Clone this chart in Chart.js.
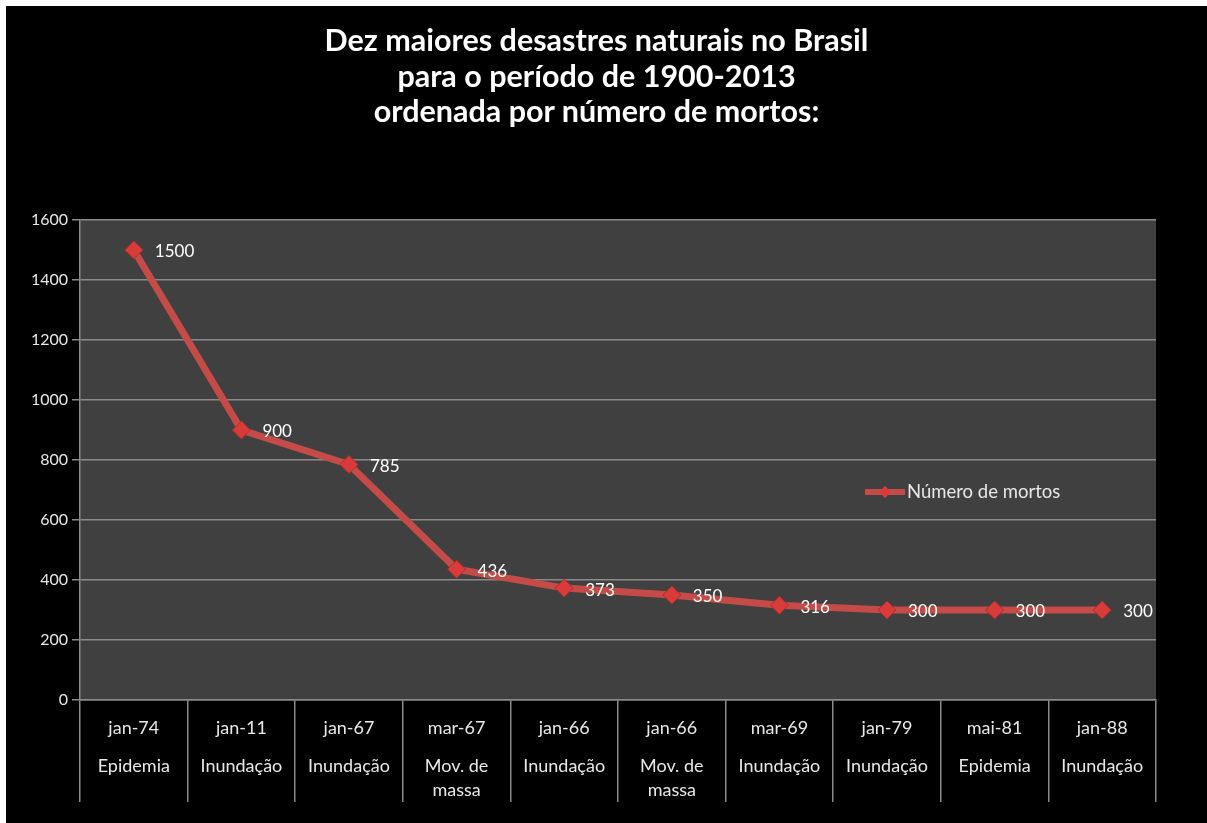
<!DOCTYPE html>
<html lang="pt">
<head>
<meta charset="UTF-8">
<title>Dez maiores desastres naturais no Brasil</title>
<script src="https://cdn.jsdelivr.net/npm/chart.js"></script>
<style>
    body { margin: 0; background: #fff; }
    #wrap { position: absolute; left: 6px; top: 6px; width: 1201px; height: 817px; background: #000; }
    #title {
        position: absolute; left: -10px; top: 16px; width: 1201px;
        text-align: center; color: #fff;
        font-family: Lato, sans-serif; font-weight: bold; font-size: 30.5px; line-height: 35.5px;
    }
    #chart { position: absolute; left: 0; top: 0; }
</style>
</head>
<body>
<div id="wrap">
    <canvas id="chart" width="1201" height="817"></canvas>
    <div id="title">Dez maiores desastres naturais no Brasil<br>para o período de 1900-2013<br>ordenada por número de mortos:</div>
</div>
<script>
    // data
    const dates = ['jan-74', 'jan-11', 'jan-67', 'mar-67', 'jan-66', 'jan-66', 'mar-69', 'jan-79', 'mai-81', 'jan-88'];
    const types = [['Epidemia'], ['Inundação'], ['Inundação'], ['Mov. de', 'massa'], ['Inundação'],
                   ['Mov. de', 'massa'], ['Inundação'], ['Inundação'], ['Epidemia'], ['Inundação']];
    const mortos = [1500, 900, 785, 436, 373, 350, 316, 300, 300, 300];
    const seriesName = 'Número de mortos';
    const yMin = 0, yMax = 1600, yStep = 200;

    const lineColor = '#c44b47';
    const markerColor = '#d93b3a';
    const gridColor = '#8a8a8a';
    const textColor = '#e8e8e8';
    const fontFamily = 'Lato, sans-serif';

    // dark grey plot area
    const plotBg = {
        id: 'plotBg',
        beforeDraw(chart) {
            const { ctx, chartArea: a } = chart;
            ctx.save();
            ctx.fillStyle = '#404040';
            ctx.fillRect(a.left, a.top, a.right - a.left, a.bottom - a.top);
            ctx.restore();
        }
    };

    // category labels: date on the first line, disaster type below
    const catLabels = {
        id: 'catLabels',
        afterDraw(chart) {
            const { ctx, chartArea: a } = chart;
            const xs = chart.scales.x;
            ctx.save();
            ctx.fillStyle = textColor;
            ctx.font = '18px ' + fontFamily;
            ctx.textAlign = 'center';
            ctx.textBaseline = 'middle';
            dates.forEach((d, i) => {
                const x = xs.getPixelForValue(i);
                ctx.fillText(d, x, a.bottom + 28);
                types[i].forEach((t, j) => ctx.fillText(t, x, a.bottom + 66 + j * 24));
            });
            ctx.restore();
        }
    };

    // value next to each point
    const valueLabels = {
        id: 'valueLabels',
        afterDatasetsDraw(chart) {
            const { ctx } = chart;
            const meta = chart.getDatasetMeta(0);
            ctx.save();
            ctx.fillStyle = '#fff';
            ctx.font = '17px ' + fontFamily;
            ctx.textAlign = 'left';
            ctx.textBaseline = 'middle';
            meta.data.forEach((p, i) => ctx.fillText(String(mortos[i]), p.x + 21, p.y + 2));
            ctx.restore();
        }
    };

    // legend inside the plot, right side
    const innerLegend = {
        id: 'innerLegend',
        afterDraw(chart) {
            const { ctx } = chart;
            const x0 = 859, y0 = 486;
            ctx.save();
            ctx.strokeStyle = lineColor;
            ctx.lineWidth = 6;
            ctx.beginPath();
            ctx.moveTo(x0, y0);
            ctx.lineTo(x0 + 40, y0);
            ctx.stroke();
            ctx.fillStyle = markerColor;
            ctx.beginPath();
            ctx.moveTo(x0 + 20, y0 - 6);
            ctx.lineTo(x0 + 26, y0);
            ctx.lineTo(x0 + 20, y0 + 6);
            ctx.lineTo(x0 + 14, y0);
            ctx.closePath();
            ctx.fill();
            ctx.fillStyle = textColor;
            ctx.font = '18.5px ' + fontFamily;
            ctx.textBaseline = 'middle';
            ctx.fillText(seriesName, x0 + 42, y0);
            ctx.restore();
        }
    };

    new Chart(document.getElementById('chart'), {
        type: 'line',
        data: {
            labels: dates,
            datasets: [{
                label: seriesName,
                data: mortos,
                borderColor: lineColor,
                borderWidth: 7,
                tension: 0,
                pointStyle: 'rectRot',
                pointRadius: 9,
                pointBackgroundColor: markerColor,
                pointBorderColor: '#b02c2c',
                pointBorderWidth: 1
            }]
        },
        options: {
            responsive: false,
            animation: false,
            layout: { padding: { left: 0, top: 214, right: 51, bottom: 21 } },
            plugins: {
                legend: { display: false },
                tooltip: { enabled: false },
                title: { display: false }
            },
            scales: {
                x: {
                    offset: true,
                    grid: { offset: true, drawOnChartArea: false, color: gridColor, tickLength: 102, lineWidth: 1.5 },
                    border: { color: gridColor, width: 1.5 },
                    ticks: { color: 'rgba(0,0,0,0)' },
                    afterFit(scale) { scale.height = 102; }
                },
                y: {
                    min: yMin,
                    max: yMax,
                    ticks: {
                        stepSize: yStep, color: textColor, padding: 4,
                        font: { family: fontFamily, size: 16 },
                        callback: v => String(v)
                    },
                    grid: { color: gridColor, tickLength: 8, lineWidth: 1.5 },
                    border: { color: gridColor, width: 1.5 },
                    afterFit(scale) { scale.width = 74; }
                }
            }
        },
        plugins: [plotBg, catLabels, valueLabels, innerLegend]
    });
</script>
</body>
</html>
